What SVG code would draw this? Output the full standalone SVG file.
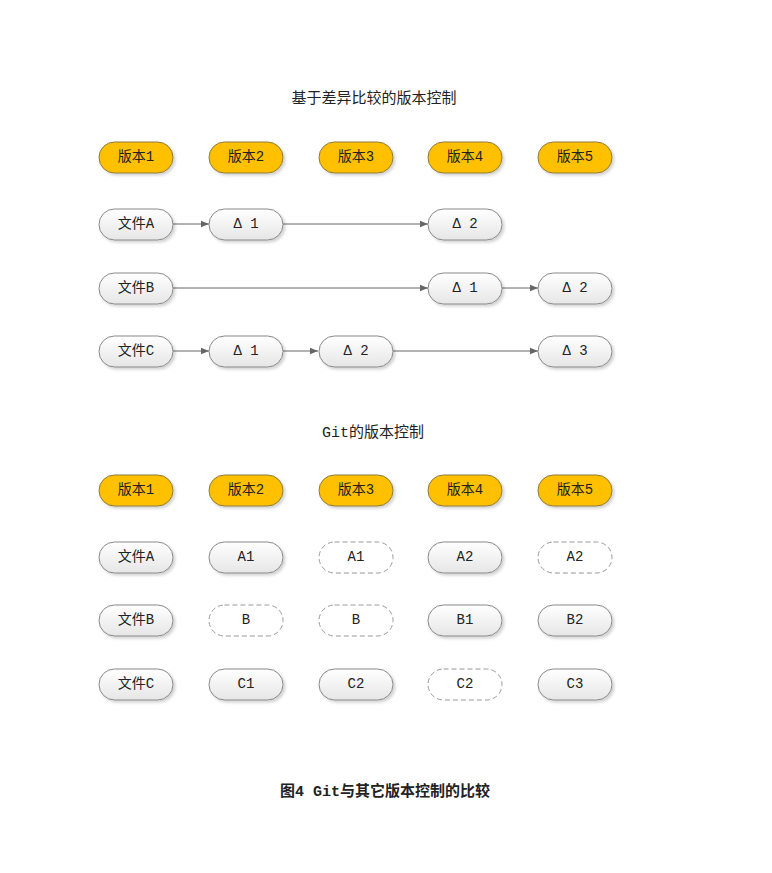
<svg xmlns="http://www.w3.org/2000/svg" width="772" height="873" viewBox="0 0 772 873">
<defs>
<linearGradient id="g" x1="0" y1="0" x2="0" y2="1"><stop offset="0" stop-color="#ffffff"/><stop offset="1" stop-color="#e6e6e6"/></linearGradient>
<filter id="sh" x="-20%" y="-30%" width="150%" height="180%"><feDropShadow dx="2" dy="2" stdDeviation="1.5" flood-color="#000" flood-opacity="0.18"/></filter>
<marker id="ar" viewBox="0 0 10 10" refX="10" refY="5" markerWidth="8" markerHeight="8" markerUnits="userSpaceOnUse" orient="auto"><path d="M0,1 L10,5 L0,9 z" fill="#666"/></marker>
</defs>
<style>
text{font-family:"Liberation Mono","Noto Sans CJK SC",monospace;font-size:14px;fill:#222;text-anchor:middle;dominant-baseline:central}
.v rect{fill:#FFC000;stroke:#8c7a3c;stroke-width:1;filter:url(#sh)}
.f rect{fill:url(#g);stroke:#888;stroke-width:1;filter:url(#sh)}
.d rect{fill:#fff;stroke:#999;stroke-width:1;stroke-dasharray:5,3}
.t{font-size:15px}
.cap{font-size:15px;font-weight:bold}
#edges line{stroke:#666;stroke-width:1;marker-end:url(#ar)}
</style>
<rect width="772" height="873" fill="#fff"/>
<text class="t" x="374" y="99">基于差异比较的版本控制</text>
<text class="t" x="373" y="433">Git的版本控制</text>
<text class="cap" x="385" y="792">图4 Git与其它版本控制的比较</text>

<g id="edges">
<line x1="173" y1="224" x2="209" y2="224"/>
<line x1="283" y1="224" x2="428" y2="224"/>
<line x1="173" y1="288" x2="428" y2="288"/>
<line x1="502" y1="288" x2="538" y2="288"/>
<line x1="173" y1="351" x2="209" y2="351"/>
<line x1="283" y1="351" x2="318" y2="351"/>
<line x1="392" y1="351" x2="538" y2="351"/>
</g>

<!-- top section -->
<g id="tv1" class="v"><rect x="99" y="142" width="74" height="31" rx="15.5"/><text x="136" y="157">版本1</text></g>
<g id="tv2" class="v"><rect x="209" y="142" width="74" height="31" rx="15.5"/><text x="246" y="157">版本2</text></g>
<g id="tv3" class="v"><rect x="319" y="142" width="74" height="31" rx="15.5"/><text x="356" y="157">版本3</text></g>
<g id="tv4" class="v"><rect x="428" y="142" width="74" height="31" rx="15.5"/><text x="465" y="157">版本4</text></g>
<g id="tv5" class="v"><rect x="538" y="142" width="74" height="31" rx="15.5"/><text x="575" y="157">版本5</text></g>

<g id="tfa" class="f"><rect x="99" y="209" width="74" height="31" rx="15.5"/><text x="136" y="224">文件A</text></g>
<g id="ta1" class="f"><rect x="209" y="209" width="74" height="31" rx="15.5"/><text x="246" y="224">Δ 1</text></g>
<g id="ta2" class="f"><rect x="428" y="209" width="74" height="31" rx="15.5"/><text x="465" y="224">Δ 2</text></g>

<g id="tfb" class="f"><rect x="99" y="273" width="74" height="31" rx="15.5"/><text x="136" y="288">文件B</text></g>
<g id="tb1" class="f"><rect x="428" y="273" width="74" height="31" rx="15.5"/><text x="465" y="288">Δ 1</text></g>
<g id="tb2" class="f"><rect x="538" y="273" width="74" height="31" rx="15.5"/><text x="575" y="288">Δ 2</text></g>

<g id="tfc" class="f"><rect x="99" y="336" width="74" height="31" rx="15.5"/><text x="136" y="351">文件C</text></g>
<g id="tc1" class="f"><rect x="209" y="336" width="74" height="31" rx="15.5"/><text x="246" y="351">Δ 1</text></g>
<g id="tc2" class="f"><rect x="319" y="336" width="74" height="31" rx="15.5"/><text x="356" y="351">Δ 2</text></g>
<g id="tc3" class="f"><rect x="538" y="336" width="74" height="31" rx="15.5"/><text x="575" y="351">Δ 3</text></g>

<!-- bottom section -->
<g id="gv1" class="v"><rect x="99" y="475" width="74" height="31" rx="15.5"/><text x="136" y="490">版本1</text></g>
<g id="gv2" class="v"><rect x="209" y="475" width="74" height="31" rx="15.5"/><text x="246" y="490">版本2</text></g>
<g id="gv3" class="v"><rect x="319" y="475" width="74" height="31" rx="15.5"/><text x="356" y="490">版本3</text></g>
<g id="gv4" class="v"><rect x="428" y="475" width="74" height="31" rx="15.5"/><text x="465" y="490">版本4</text></g>
<g id="gv5" class="v"><rect x="538" y="475" width="74" height="31" rx="15.5"/><text x="575" y="490">版本5</text></g>

<g id="gfa" class="f"><rect x="99" y="542" width="74" height="31" rx="15.5"/><text x="136" y="557">文件A</text></g>
<g id="ga2" class="f"><rect x="209" y="542" width="74" height="31" rx="15.5"/><text x="246" y="557">A1</text></g>
<g id="ga3" class="d"><rect x="319" y="542" width="74" height="31" rx="15.5"/><text x="356" y="557">A1</text></g>
<g id="ga4" class="f"><rect x="428" y="542" width="74" height="31" rx="15.5"/><text x="465" y="557">A2</text></g>
<g id="ga5" class="d"><rect x="538" y="542" width="74" height="31" rx="15.5"/><text x="575" y="557">A2</text></g>

<g id="gfb" class="f"><rect x="99" y="605" width="74" height="31" rx="15.5"/><text x="136" y="620">文件B</text></g>
<g id="gb2" class="d"><rect x="209" y="605" width="74" height="31" rx="15.5"/><text x="246" y="620">B</text></g>
<g id="gb3" class="d"><rect x="319" y="605" width="74" height="31" rx="15.5"/><text x="356" y="620">B</text></g>
<g id="gb4" class="f"><rect x="428" y="605" width="74" height="31" rx="15.5"/><text x="465" y="620">B1</text></g>
<g id="gb5" class="f"><rect x="538" y="605" width="74" height="31" rx="15.5"/><text x="575" y="620">B2</text></g>

<g id="gfc" class="f"><rect x="99" y="669" width="74" height="31" rx="15.5"/><text x="136" y="684">文件C</text></g>
<g id="gc2" class="f"><rect x="209" y="669" width="74" height="31" rx="15.5"/><text x="246" y="684">C1</text></g>
<g id="gc3" class="f"><rect x="319" y="669" width="74" height="31" rx="15.5"/><text x="356" y="684">C2</text></g>
<g id="gc4" class="d"><rect x="428" y="669" width="74" height="31" rx="15.5"/><text x="465" y="684">C2</text></g>
<g id="gc5" class="f"><rect x="538" y="669" width="74" height="31" rx="15.5"/><text x="575" y="684">C3</text></g>
</svg>
